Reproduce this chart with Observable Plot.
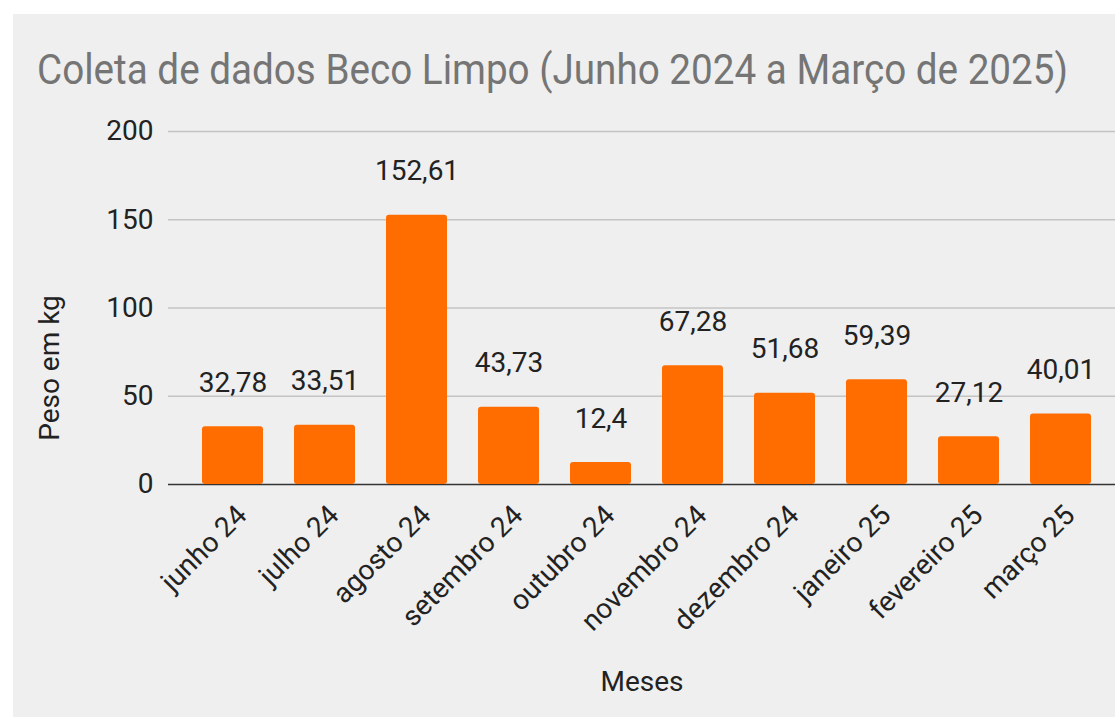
<!DOCTYPE html>
<html>
<head>
<meta charset="utf-8">
<script src="https://cdn.jsdelivr.net/npm/d3@7"></script>
<script src="https://cdn.jsdelivr.net/npm/@observablehq/plot@0.6"></script>
<style>
  html, body { margin: 0; padding: 0; background: #ffffff; width: 1115px; height: 717px; overflow: hidden; }
  #panel { position: absolute; left: 13px; top: 14px; width: 1102px; height: 703px; background: #efefef; overflow: hidden; }
  #title { position: absolute; left: 24px; top: 34px; font-family: Roboto, sans-serif; font-size: 43px; line-height: 43px; color: #757575; white-space: nowrap; transform-origin: 0 0; }
  #chart { position: absolute; left: 0; top: 86px; }
</style>
</head>
<body>
<div id="panel">
  <div id="title">Coleta de dados Beco Limpo (Junho 2024 a Março de 2025)</div>
  <div id="chart"></div>
</div>
<script>
const months = ["junho 24", "julho 24", "agosto 24", "setembro 24", "outubro 24", "novembro 24", "dezembro 24", "janeiro 25", "fevereiro 25", "março 25"];
const weights = [32.78, 33.51, 152.61, 43.73, 12.4, 67.28, 51.68, 59.39, 27.12, 40.01];
const yTicks = [0, 50, 100, 150, 200];
const xTitle = "Meses";
const yTitle = "Peso em kg";

const data = months.map((m, i) => ({month: m, value: weights[i]}));
const fmt = v => String(v).replace(".", ",");

const svg = Plot.plot({
  width: 1102,
  height: 617,
  marginLeft: 155,
  marginRight: 0,
  marginTop: 31,
  marginBottom: 233,
  style: {background: "transparent", fontFamily: "Roboto, sans-serif", overflow: "visible", color: "#222"},
  x: {domain: months, range: [171.3, 1094.7], paddingInner: 0.34, paddingOuter: 0.17},
  y: {domain: [0, 200]},
  marks: [
    Plot.gridY(yTicks.filter(t => t > 0), {stroke: "#c4c4c4", strokeOpacity: 1, strokeWidth: 1.5}),
    Plot.ruleY([0], {stroke: "#333", strokeWidth: 1.5}),
    Plot.barY(data, {x: "month", y: "value", fill: "#ff6d01", rx: 3}),
    Plot.text(data, {x: "month", y: "value", text: d => fmt(d.value), dy: -44, fontSize: 28, fill: "#222", lineAnchor: "middle"}),
    Plot.axisY({ticks: yTicks, tickSize: 0, tickPadding: 15, fontSize: 28, label: null, fill: "#222"}),
    Plot.axisX({tickRotate: -45, tickSize: 0, tickPadding: 0, dx: 9, dy: 26, fontSize: 28, label: null, fill: "#222"}),
    Plot.text([xTitle], {frameAnchor: "bottom", dy: 198, lineAnchor: "middle", fontSize: 28, fill: "#222"}),
    Plot.text([yTitle], {frameAnchor: "left", dx: -118, dy: 60, rotate: -90, lineAnchor: "middle", textAnchor: "middle", fontSize: 28, fill: "#222"})
  ]
});
document.getElementById("chart").appendChild(svg);

const t = document.getElementById("title");
const w = t.getBoundingClientRect().width;
t.style.transform = `scaleX(${1031 / w})`;
</script>
</body>
</html>
